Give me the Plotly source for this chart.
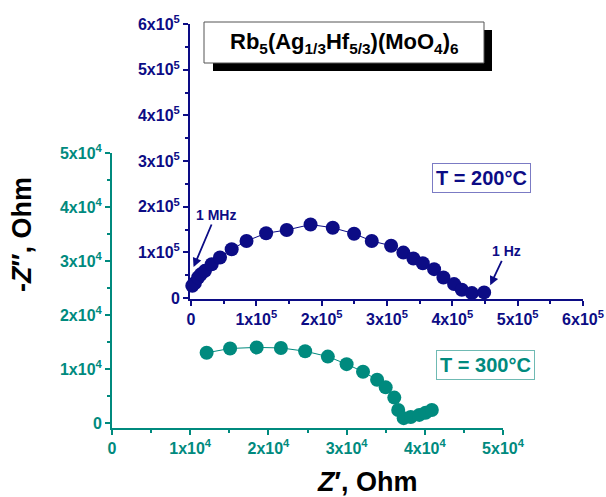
import plotly.graph_objects as go

# ---- data ----
z200_re = [2000, 6000, 11000, 15000, 21400, 31700, 44400, 62300, 85000, 115000, 146500, 183000,
           217000, 249600, 276700, 306300, 325100, 340400, 354800, 372100, 386400, 402700,
           414500, 429900, 448700]
z200_im = [27000, 33000, 45000, 52000, 59600, 74200, 88900, 107000, 125000, 142000, 149000, 161000,
           154000, 141000, 125000, 114500, 99600, 86700, 76400, 63300, 45200, 30600,
           18100, 10900, 12400]

z300_re = [12100, 15100, 18500, 21600, 24700, 27600, 30000, 32100, 33900, 35000, 36100, 36600,
           37300, 38200, 39300, 40100, 40900]
z300_im = [13000, 13800, 14000, 13900, 13300, 12300, 10900, 9500, 8000, 6600, 4700, 2400,
           900, 1100, 1500, 1900, 2400]

main_tickvals = [0, 10000, 20000, 30000, 40000, 50000]
main_ticktext = ["0", "1x10<sup>4</sup>", "2x10<sup>4</sup>", "3x10<sup>4</sup>",
                 "4x10<sup>4</sup>", "5x10<sup>4</sup>"]
inset_tickvals = [0, 100000, 200000, 300000, 400000, 500000, 600000]
inset_ticktext = ["0", "1x10<sup>5</sup>", "2x10<sup>5</sup>", "3x10<sup>5</sup>",
                  "4x10<sup>5</sup>", "5x10<sup>5</sup>", "6x10<sup>5</sup>"]

NAVY = "#0c0c85"
TEAL = "#008a7e"
FONT = "Liberation Sans, Arial, sans-serif"
W, H = 606, 497


def px(x):
    return x / W


def py(y):
    return 1 - y / H


fig = go.Figure()
fig.add_trace(go.Scatter(x=z300_re, y=z300_im, mode="lines+markers",
                         line=dict(color=TEAL, width=1),
                         marker=dict(color=TEAL, size=14),
                         cliponaxis=False, xaxis="x", yaxis="y", showlegend=False))
fig.add_trace(go.Scatter(x=z200_re, y=z200_im, mode="lines+markers",
                         line=dict(color=NAVY, width=1),
                         marker=dict(color=NAVY, size=14),
                         cliponaxis=False, xaxis="x2", yaxis="y2", showlegend=False))


def axis(color, domain, rng, tv, tt, minor_dtick, anchor):
    return dict(domain=domain, range=rng, anchor=anchor, automargin=False,
                showgrid=False, zeroline=False, showline=True, linewidth=2, linecolor=color,
                ticks="outside", ticklen=5, tickwidth=2, tickcolor=color,
                tickvals=tv, ticktext=tt,
                tickfont=dict(family=FONT, size=16, color=color, weight="bold"),
                minor=dict(ticks="outside", ticklen=3, tickwidth=1.5, tickcolor=color,
                           dtick=minor_dtick, tick0=0))


fig.update_layout(
    width=W, height=H, autosize=False,
    margin=dict(l=0, r=0, t=0, b=0, pad=0, autoexpand=False),
    paper_bgcolor="white", plot_bgcolor="rgba(0,0,0,0)",
    xaxis=axis(TEAL, [px(112), px(503)], [0, 50000], main_tickvals, main_ticktext, 5000, "y"),
    yaxis=axis(TEAL, [py(428), py(153)], [-926, 50000], main_tickvals, main_ticktext, 5000, "x"),
    xaxis2=axis(NAVY, [px(190), px(583)], [-1500, 600000], inset_tickvals, inset_ticktext, 50000, "y2"),
    yaxis2=axis(NAVY, [py(299), py(24)], [-2000, 600000], inset_tickvals, inset_ticktext, 50000, "x2"),
)

# title box with shadow
fig.add_shape(type="rect", xref="paper", yref="paper",
              x0=px(213), x1=px(492), y0=py(71), y1=py(30),
              fillcolor="black", line=dict(width=0))
fig.add_shape(type="rect", xref="paper", yref="paper",
              x0=px(204), x1=px(484), y0=py(63), y1=py(22),
              fillcolor="white", line=dict(color="#555555", width=1))


def label(x, y, text, size, color, **kw):
    fig.add_annotation(xref="paper", yref="paper", x=x, y=y, showarrow=False,
                       xanchor="center", yanchor="middle", text=text,
                       font=dict(family=FONT, size=size, color=color, weight="bold"), **kw)


label(px(344), py(43),
      "Rb<sub>5</sub>(Ag<sub>1/3</sub>Hf<sub>5/3</sub>)(MoO<sub>4</sub>)<sub>6</sub>", 22, "black")

# temperature labels
label(px(481.5), py(178.5), "T = 200°C", 20, NAVY,
      bordercolor="#7b7bc4", borderwidth=1, borderpad=3)
label(px(485), py(364.5), "T = 300°C", 20, TEAL,
      bordercolor="#6fbab3", borderwidth=1, borderpad=3)

# frequency labels
fig.add_annotation(xref="x2", yref="y2", x=4000, y=68000, ax=22, ay=-52,
                   text="1 MHz", showarrow=True, arrowhead=2, arrowsize=1, arrowwidth=1.8,
                   arrowcolor=NAVY, font=dict(family=FONT, size=14, color=NAVY, weight="bold"))
fig.add_annotation(xref="x2", yref="y2", x=458000, y=28000, ax=16, ay=-34,
                   text="1 Hz", showarrow=True, arrowhead=2, arrowsize=1, arrowwidth=1.8,
                   arrowcolor=NAVY, font=dict(family=FONT, size=14, color=NAVY, weight="bold"))

# axis titles
label(px(22), py(235), "-<i>Z</i>″, Ohm", 27, "black", textangle=-90)
label(px(367), py(482), "<i>Z</i>′, Ohm", 27, "black")

fig.write_html("out.html", config={"displayModeBar": False},
               post_script="document.body.style.margin='0px';document.body.style.overflow='hidden';")
